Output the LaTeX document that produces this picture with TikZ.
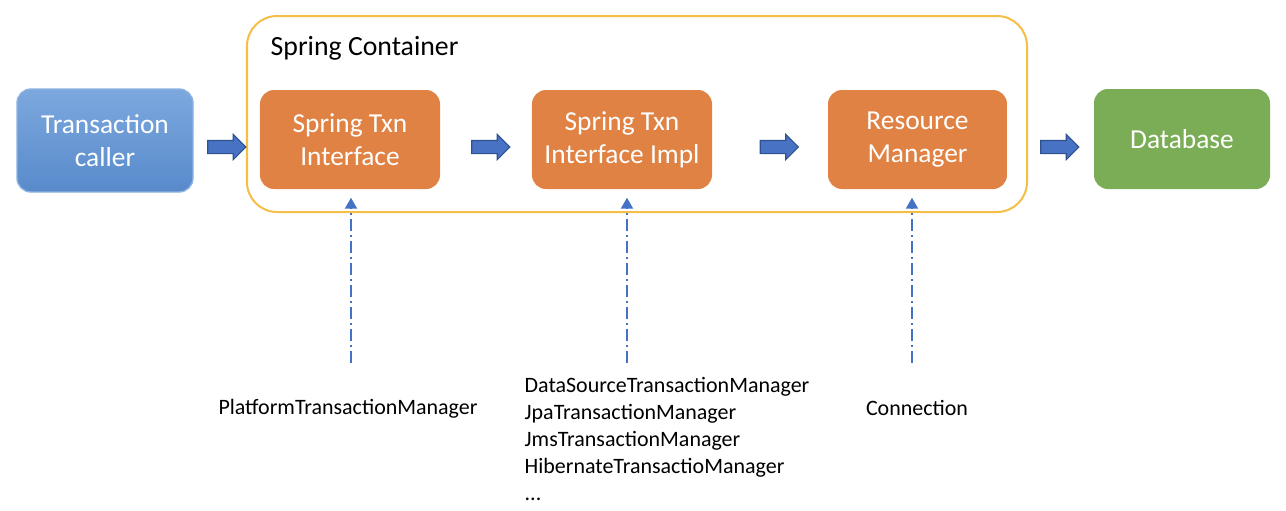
\documentclass[tikz,border=0pt]{standalone}
\usepackage{fontspec}
\setmainfont{Carlito}
\usetikzlibrary{arrows.meta,shapes.arrows}
\definecolor{callertop}{RGB}{124,168,222}
\definecolor{callerbot}{RGB}{88,138,203}
\definecolor{calleredge}{RGB}{140,178,226}
\definecolor{txnorange}{RGB}{224,130,67}
\definecolor{dbgreen}{RGB}{123,173,87}
\definecolor{boxyellow}{RGB}{245,190,70}
\definecolor{arrowblue}{RGB}{72,114,196}
\definecolor{arrowedge}{RGB}{47,82,143}
\definecolor{linkblue}{RGB}{68,114,196}

\begin{document}
\begin{tikzpicture}[
  box/.style={rounded corners=0.14cm, minimum width=1.80cm, minimum height=0.99cm, inner sep=0, align=center, text=white, font=\fontsize{7.8}{9.4}\selectfont},
  blockarrow/.style={single arrow, draw=arrowedge, fill=arrowblue, line width=0.3pt, minimum height=0.38cm, minimum width=0.24cm, single arrow head extend=0.06cm, inner sep=0.06cm},
  dashdot/.style={linkblue, line width=0.02cm, dash pattern=on 0.12cm off 0.04cm on 0.02cm off 0.04cm, shorten >=0.08cm, -{Triangle[width=0.12cm,length=0.11cm]}},
  mgr/.style={font=\fontsize{6.25}{7.7}\selectfont, inner sep=0}
]
\useasboundingbox (0,0) rectangle (12.86,5.10);
% container
\draw[boxyellow, line width=0.02cm, rounded corners=0.3cm] (2.47,2.98) rectangle (10.27,4.94);
\node[anchor=west, inner sep=0, font=\fontsize{7.9}{9.5}\selectfont] (spring) at (2.70,4.62) {Spring Container};
% boxes
\node[box, draw=calleredge, top color=callertop, bottom color=callerbot, minimum width=1.76cm, minimum height=1.03cm] (caller) at (1.05,3.695) {Transaction\\caller};
\node[box, fill=txnorange] (iface) at (3.50,3.705) {Spring Txn\\Interface};
\node[box, fill=txnorange] (impl) at (6.22,3.705) {Spring Txn\\Interface Impl};
\node[box, fill=txnorange, minimum width=1.79cm] (resmgr) at (9.175,3.705) {Resource\\Manager};
\node[box, fill=dbgreen, minimum width=1.76cm, minimum height=1.00cm] (db) at (11.82,3.71) {Database};
% block arrows
\node[blockarrow] (a1) at (2.235,3.63) {};
\node[blockarrow] (a2) at (4.875,3.63) {};
\node[blockarrow] (a3) at (7.76,3.63) {};
\node[blockarrow] (a4) at (10.565,3.63) {};
% managers
\node[mgr] (ptm) at (3.48,1.01) {PlatformTransactionManager};
\node[mgr, anchor=west, align=left] (impls) at (5.24,0.71) {DataSourceTransactionManager\\JpaTransactionManager\\JmsTransactionManager\\HibernateTransactioManager\\...};
\node[mgr] (conn) at (9.17,1.02) {Connection};
\coordinate (f1) at (3.51,1.47);
\coordinate (f2) at (6.27,1.47);
\coordinate (f3) at (9.12,1.47);
\draw[dashdot] (f1) -- (f1 |- iface.south);
\draw[dashdot] (f2) -- (f2 |- impl.south);
\draw[dashdot] (f3) -- (f3 |- resmgr.south);
\end{tikzpicture}
\end{document}
